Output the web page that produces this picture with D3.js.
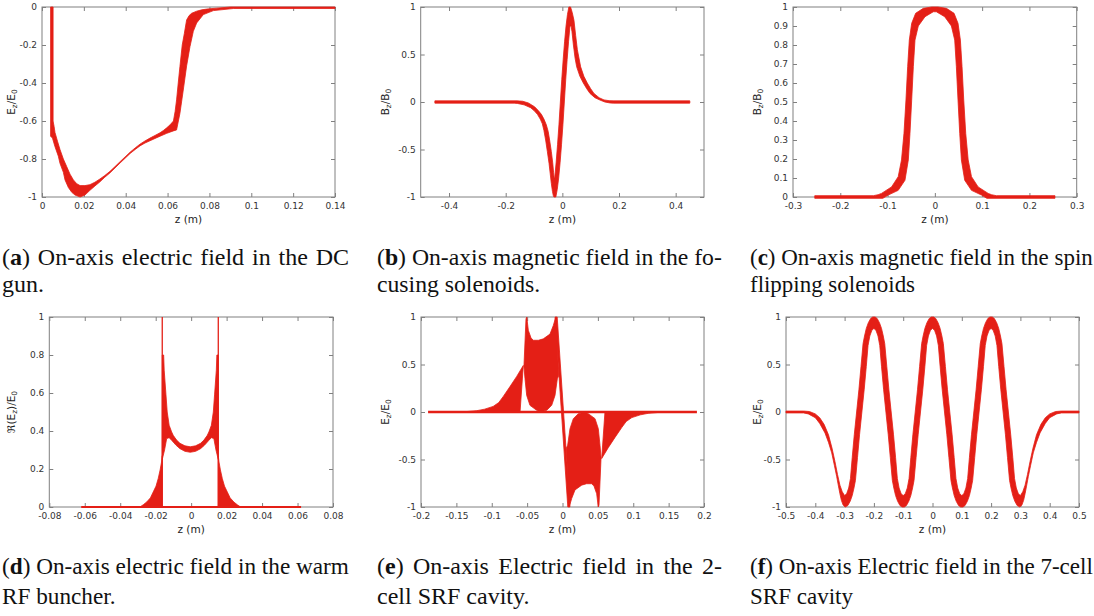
<!DOCTYPE html>
<html><head><meta charset="utf-8">
<script src="https://cdn.jsdelivr.net/npm/d3@7"></script>
<style>
body{margin:0;background:#fff}
svg{display:block}
.cap{font-family:"Liberation Serif","Times New Roman",Times,serif}
</style></head><body>
<svg id="fig" width="1094" height="616"></svg>
<script>
// ---------- (a) DC gun: Ez/E0 band, upper and lower edges ----------
const aTop = [[0.0041,0],[0.0053,0],[0.0053,-0.60],[0.0058,-0.63],[0.0062,-0.66],[0.0075,-0.71],[0.0086,-0.75],[0.0102,-0.80],[0.0118,-0.84],[0.0134,-0.88],[0.0150,-0.91],[0.0166,-0.93],[0.0182,-0.94],[0.0205,-0.94],[0.0229,-0.935],[0.0253,-0.922],[0.0277,-0.905],[0.0300,-0.887],[0.0325,-0.865],[0.0349,-0.84],[0.0373,-0.814],[0.0397,-0.789],[0.0421,-0.764],[0.0445,-0.742],[0.0468,-0.722],[0.0492,-0.705],[0.0516,-0.69],[0.0540,-0.676],[0.0564,-0.662],[0.0580,-0.650],[0.0596,-0.636],[0.0612,-0.620],[0.0628,-0.600],[0.0636,-0.55],[0.0643,-0.489],[0.0651,-0.40],[0.0659,-0.314],[0.0670,-0.20],[0.0680,-0.14],[0.0691,-0.068],[0.0703,-0.045],[0.0715,-0.033],[0.0739,-0.022],[0.0763,-0.015],[0.0787,-0.011],[0.0835,-0.006],[0.0900,0],[0.14,0]];
const aBottom = [[0.0041,0],[0.0041,-0.68],[0.0050,-0.69],[0.0062,-0.735],[0.0078,-0.785],[0.0086,-0.823],[0.0102,-0.87],[0.0110,-0.91],[0.0126,-0.95],[0.0142,-0.975],[0.0158,-0.99],[0.0182,-1.0],[0.0205,-0.99],[0.0229,-0.965],[0.0253,-0.942],[0.0277,-0.92],[0.0300,-0.896],[0.0325,-0.873],[0.0349,-0.847],[0.0373,-0.821],[0.0397,-0.796],[0.0421,-0.771],[0.0445,-0.75],[0.0468,-0.731],[0.0492,-0.716],[0.0516,-0.704],[0.0540,-0.692],[0.0564,-0.68],[0.0596,-0.665],[0.0628,-0.652],[0.0643,-0.647],[0.0659,-0.56],[0.0675,-0.437],[0.0691,-0.31],[0.0707,-0.209],[0.0723,-0.128],[0.0739,-0.084],[0.0771,-0.04],[0.0819,-0.019],[0.0914,-0.008],[0.14,-0.008]];

// ---------- (b) focusing solenoids: Bz/B0 ----------
const bTop = [[-0.45,0.012],[-0.16,0.012],[-0.14,0.008],[-0.12,-0.01],[-0.098,-0.05],[-0.085,-0.09],[-0.074,-0.13],[-0.065,-0.18],[-0.0566,-0.24],[-0.05,-0.31],[-0.045,-0.40],[-0.039,-0.52],[-0.034,-0.64],[-0.031,-0.74],[-0.029,-0.80],[-0.027,-0.80],[-0.022,-0.64],[-0.017,-0.45],[-0.012,-0.24],[-0.007,0],[-0.002,0.24],[0.003,0.45],[0.008,0.64],[0.013,0.8],[0.018,0.92],[0.023,1.0],[0.029,1.0],[0.035,0.94],[0.041,0.86],[0.047,0.70],[0.053,0.55],[0.0646,0.37],[0.076,0.27],[0.088,0.2],[0.1,0.14],[0.1116,0.09],[0.13,0.045],[0.147,0.022],[0.165,0.014],[0.182,0.012],[0.45,0.012]];
const bBottom = [[-0.45,-0.012],[-0.17,-0.012],[-0.159,-0.015],[-0.135,-0.03],[-0.112,-0.06],[-0.1,-0.09],[-0.088,-0.13],[-0.078,-0.18],[-0.0706,-0.23],[-0.065,-0.30],[-0.059,-0.40],[-0.053,-0.52],[-0.047,-0.645],[-0.043,-0.75],[-0.039,-0.856],[-0.035,-0.94],[-0.032,-0.985],[-0.0296,-1.0],[-0.023,-1.0],[-0.018,-0.92],[-0.013,-0.8],[-0.008,-0.64],[-0.003,-0.45],[0.002,-0.24],[0.007,0],[0.012,0.24],[0.017,0.45],[0.022,0.64],[0.027,0.8],[0.031,0.80],[0.034,0.74],[0.039,0.60],[0.045,0.46],[0.0506,0.37],[0.062,0.27],[0.074,0.2],[0.086,0.14],[0.0976,0.09],[0.115,0.045],[0.133,0.02],[0.15,0],[0.168,-0.01],[0.18,-0.012],[0.45,-0.012]];

// ---------- (c) spin-flipping solenoids: Bz/B0 ----------
const cTop = [[-0.254,0.007],[-0.13,0.007],[-0.12,0.012],[-0.1128,0.019],[-0.0916,0.053],[-0.0775,0.107],[-0.0705,0.195],[-0.0653,0.335],[-0.0611,0.51],[-0.0575,0.686],[-0.054,0.826],[-0.049,0.914],[-0.0406,0.967],[-0.0244,0.993],[-0.0067,1.0],[0.0067,1.0],[0.0244,0.993],[0.0406,0.967],[0.049,0.914],[0.054,0.826],[0.0575,0.686],[0.0611,0.51],[0.0653,0.335],[0.0705,0.195],[0.0775,0.107],[0.0916,0.053],[0.1128,0.019],[0.12,0.012],[0.13,0.007],[0.254,0.007]];
const cBottom = [[-0.254,-0.007],[-0.11,-0.007],[-0.0987,0.01],[-0.0775,0.035],[-0.0632,0.088],[-0.0561,0.195],[-0.0526,0.335],[-0.049,0.51],[-0.0455,0.686],[-0.042,0.826],[-0.035,0.90],[-0.0208,0.949],[-0.0032,0.975],[0.0032,0.975],[0.0208,0.949],[0.035,0.90],[0.042,0.826],[0.0455,0.686],[0.049,0.51],[0.0526,0.335],[0.0561,0.195],[0.0632,0.088],[0.0775,0.035],[0.0987,0.01],[0.11,-0.007],[0.254,-0.007]];

// ---------- (d) warm RF buncher: Re(Ez)/E0 ----------
const dAxisLine = [[-0.062,0],[0.062,0]];
const dLeftTail = [[-0.0289,0],[-0.027,0.012],[-0.0251,0.026],[-0.023,0.048],[-0.0214,0.079],[-0.0198,0.11],[-0.0186,0.149],[-0.0175,0.195],[-0.0167,0.237],[-0.0163,0.27],[-0.0163,0]];
const dRightTail = [[0.0279,0],[0.026,0.012],[0.0241,0.026],[0.022,0.048],[0.0204,0.079],[0.0188,0.11],[0.0176,0.149],[0.0165,0.195],[0.0157,0.237],[0.0153,0.27],[0.0153,0]];
const dArcTop = [[-0.0163,0.25],[-0.0163,0.80],[-0.0155,0.80],[-0.0152,0.72],[-0.0142,0.59],[-0.0135,0.50],[-0.0124,0.43],[-0.011,0.395],[-0.0101,0.377],[-0.0082,0.352],[-0.0063,0.335],[-0.0035,0.322],[-0.0005,0.317],[0.0025,0.322],[0.0053,0.335],[0.0072,0.352],[0.0091,0.377],[0.0100,0.395],[0.0114,0.43],[0.0125,0.50],[0.0132,0.59],[0.0142,0.72],[0.0145,0.80],[0.0153,0.80],[0.0153,0.25]];
const dArcBottom = [[-0.0163,0.25],[-0.0150,0.30],[-0.0138,0.36],[-0.0124,0.365],[-0.011,0.351],[-0.0085,0.325],[-0.0063,0.307],[-0.0035,0.293],[-0.0005,0.288],[0.0025,0.293],[0.0053,0.307],[0.0075,0.325],[0.0100,0.351],[0.0114,0.365],[0.0128,0.36],[0.0140,0.30],[0.0153,0.25]];
const dWalls = [[[-0.0163,0],[-0.0163,1]],[[0.0153,0],[0.0153,1]]];

// ---------- (e) 2-cell SRF cavity: Ez/E0 ----------
const eAxisLine = [[-0.19,0],[0.19,0]];
const eLeftTail = [[-0.15,0],[-0.135,0.005],[-0.121,0.014],[-0.11,0.03],[-0.098,0.059],[-0.09,0.1],[-0.0837,0.164],[-0.074,0.27],[-0.0647,0.375],[-0.0554,0.49],[-0.0600,0]];
const eCellLeft = [[-0.0545,0.48],[-0.0516,0.98],[-0.0505,1.0],[-0.0483,0.86],[-0.0445,0.78],[-0.0413,0.755],[-0.034,0.755],[-0.0271,0.77],[-0.0177,0.82],[-0.013,0.91],[-0.0095,1.0],[-0.0088,0.98],[-0.0055,0.38],[-0.0073,0.35],[-0.0106,0.175],[-0.0153,0.07],[-0.0223,0.018],[-0.0318,0],[-0.0365,0.018],[-0.046,0.07],[-0.0506,0.175],[-0.053,0.35]];
const eCellRight = [[0.0545,-0.48],[0.0516,-0.98],[0.0505,-1.0],[0.0483,-0.86],[0.0445,-0.78],[0.0413,-0.755],[0.034,-0.755],[0.0271,-0.77],[0.0177,-0.82],[0.013,-0.91],[0.0095,-1.0],[0.0088,-0.98],[0.0055,-0.38],[0.0073,-0.35],[0.0106,-0.175],[0.0153,-0.07],[0.0223,-0.018],[0.0318,0],[0.0365,-0.018],[0.046,-0.07],[0.0506,-0.175],[0.053,-0.35]];
const eRightTail = [[0.15,0],[0.135,-0.005],[0.121,-0.014],[0.11,-0.03],[0.098,-0.059],[0.09,-0.1],[0.0837,-0.164],[0.074,-0.27],[0.0647,-0.375],[0.0554,-0.49],[0.0600,0]];
const eCrossing = [[-0.0105,1.0],[-0.0075,1.0],[0.0105,-1.0],[0.0075,-1.0]];

// ---------- (f) 7-cell SRF cavity: Ez/E0 ----------
const fTop = [[-0.5,0.01],[-0.44,0.01],[-0.42,0.005],[-0.40,-0.02],[-0.385,-0.06],[-0.37,-0.13],[-0.355,-0.24],[-0.343,-0.38],[-0.333,-0.52],[-0.324,-0.66],[-0.316,-0.77],[-0.308,-0.84],[-0.3,-0.88],
[-0.293,-0.86],[-0.286,-0.80],[-0.280,-0.70],[-0.274,-0.48],[-0.267,-0.24],[-0.259,0],
[-0.251,0.24],[-0.244,0.48],[-0.237,0.72],[-0.232,0.80],[-0.226,0.88],[-0.219,0.94],[-0.211,0.985],[-0.204,1.0],[-0.196,1.0],[-0.189,0.985],[-0.181,0.94],[-0.174,0.88],[-0.168,0.80],[-0.163,0.72],[-0.156,0.48],[-0.149,0.24],[-0.141,0],
[-0.133,-0.24],[-0.126,-0.48],[-0.120,-0.70],[-0.114,-0.80],[-0.107,-0.86],[-0.1,-0.88],[-0.093,-0.86],[-0.086,-0.80],[-0.080,-0.70],[-0.074,-0.48],[-0.067,-0.24],[-0.059,0],
[-0.051,0.24],[-0.044,0.48],[-0.037,0.72],[-0.032,0.80],[-0.026,0.88],[-0.019,0.94],[-0.011,0.985],[-0.004,1.0],[0.004,1.0],[0.011,0.985],[0.019,0.94],[0.026,0.88],[0.032,0.80],[0.037,0.72],[0.044,0.48],[0.051,0.24],[0.059,0],
[0.067,-0.24],[0.074,-0.48],[0.080,-0.70],[0.086,-0.80],[0.093,-0.86],[0.1,-0.88],[0.107,-0.86],[0.114,-0.80],[0.120,-0.70],[0.126,-0.48],[0.133,-0.24],[0.141,0],
[0.149,0.24],[0.156,0.48],[0.163,0.72],[0.168,0.80],[0.174,0.88],[0.181,0.94],[0.189,0.985],[0.196,1.0],[0.204,1.0],[0.211,0.985],[0.219,0.94],[0.226,0.88],[0.232,0.80],[0.237,0.72],[0.244,0.48],[0.251,0.24],[0.259,0],
[0.267,-0.24],[0.274,-0.48],[0.280,-0.70],[0.286,-0.80],[0.293,-0.86],[0.3,-0.88],
[0.308,-0.84],[0.316,-0.77],[0.324,-0.66],[0.333,-0.52],[0.343,-0.38],[0.355,-0.24],[0.37,-0.13],[0.385,-0.06],[0.40,-0.02],[0.42,0.005],[0.44,0.01],[0.5,0.01]];
const fBottom = [[-0.5,-0.01],[-0.44,-0.01],[-0.424,-0.02],[-0.40,-0.06],[-0.385,-0.12],[-0.367,-0.22],[-0.355,-0.32],[-0.344,-0.43],[-0.335,-0.56],[-0.327,-0.68],[-0.321,-0.78],[-0.316,-0.86],[-0.311,-0.93],[-0.305,-0.98],[-0.298,-1.0],[-0.289,-0.985],[-0.281,-0.94],[-0.274,-0.88],[-0.268,-0.80],[-0.263,-0.72],[-0.256,-0.48],[-0.249,-0.24],[-0.241,0],
[-0.233,0.24],[-0.226,0.48],[-0.220,0.70],[-0.214,0.80],[-0.207,0.86],[-0.2,0.88],[-0.193,0.86],[-0.186,0.80],[-0.180,0.70],[-0.174,0.48],[-0.167,0.24],[-0.159,0],
[-0.151,-0.24],[-0.144,-0.48],[-0.137,-0.72],[-0.132,-0.80],[-0.126,-0.88],[-0.119,-0.94],[-0.111,-0.985],[-0.104,-1.0],[-0.096,-1.0],[-0.089,-0.985],[-0.081,-0.94],[-0.074,-0.88],[-0.068,-0.80],[-0.063,-0.72],[-0.056,-0.48],[-0.049,-0.24],[-0.041,0],
[-0.033,0.24],[-0.026,0.48],[-0.020,0.70],[-0.014,0.80],[-0.007,0.86],[0,0.88],[0.007,0.86],[0.014,0.80],[0.020,0.70],[0.026,0.48],[0.033,0.24],[0.041,0],
[0.049,-0.24],[0.056,-0.48],[0.063,-0.72],[0.068,-0.80],[0.074,-0.88],[0.081,-0.94],[0.089,-0.985],[0.096,-1.0],[0.104,-1.0],[0.111,-0.985],[0.119,-0.94],[0.126,-0.88],[0.132,-0.80],[0.137,-0.72],[0.144,-0.48],[0.151,-0.24],[0.159,0],
[0.167,0.24],[0.174,0.48],[0.180,0.70],[0.186,0.80],[0.193,0.86],[0.2,0.88],[0.207,0.86],[0.214,0.80],[0.220,0.70],[0.226,0.48],[0.233,0.24],[0.241,0],
[0.249,-0.24],[0.256,-0.48],[0.263,-0.72],[0.268,-0.80],[0.274,-0.88],[0.281,-0.94],[0.289,-0.985],[0.298,-1.0],[0.305,-0.98],[0.311,-0.93],[0.316,-0.86],[0.321,-0.78],[0.327,-0.68],[0.335,-0.56],[0.344,-0.43],[0.355,-0.32],[0.367,-0.22],[0.385,-0.12],[0.40,-0.06],[0.424,-0.02],[0.44,-0.01],[0.5,-0.01]];

// ---------- tick values ----------
const aXTicks = [0,0.02,0.04,0.06,0.08,0.1,0.12,0.14];
const aYTicks = [-1,-0.8,-0.6,-0.4,-0.2,0];
const bXTicks = [-0.4,-0.2,0,0.2,0.4];
const bYTicks = [-1,-0.5,0,0.5,1];
const cXTicks = [-0.3,-0.2,-0.1,0,0.1,0.2,0.3];
const cYTicks = [0,0.1,0.2,0.3,0.4,0.5,0.6,0.7,0.8,0.9,1];
const dXTicks = [-0.08,-0.06,-0.04,-0.02,0,0.02,0.04,0.06,0.08];
const dYTicks = [0,0.2,0.4,0.6,0.8,1];
const eXTicks = [-0.2,-0.15,-0.1,-0.05,0,0.05,0.1,0.15,0.2];
const eYTicks = [-1,-0.5,0,0.5,1];
const fXTicks = [-0.5,-0.4,-0.3,-0.2,-0.1,0,0.1,0.2,0.3,0.4,0.5];
const fYTicks = [-1,-0.5,0,0.5,1];

// ---------- captions ----------
const captionTags = ["a","b","c","d","e","f"];
const captionFirst = [" On-axis electric field in the DC"," On-axis magnetic field in the fo-"," On-axis magnetic field in the spin"," On-axis electric field in the warm"," On-axis Electric field in the 2-"," On-axis Electric field in the 7-cell"];
const captionSecond = ["gun.","cusing solenoids.","flipping solenoids","RF buncher.","cell SRF cavity.","SRF cavity"];

const RED = "#e41f16";
const FRAME = "#808080";
const svg = d3.select("#fig");

function fmt(v){ const s = String(+v.toFixed(6)); return s === "-0" ? "0" : s; }

function panel(cfg){
  const x = d3.scaleLinear().domain(cfg.xDomain).range([cfg.left, cfg.right]);
  const y = d3.scaleLinear().domain(cfg.yDomain).range([cfg.bottom, cfg.top]);
  const g = svg.append("g");
  const w = cfg.right - cfg.left, h = cfg.bottom - cfg.top;

  const styleAxis = sel => {
    sel.select(".domain").remove();
    sel.selectAll(".tick line").attr("stroke", FRAME);
    sel.selectAll(".tick text").attr("fill", "#333").attr("font-family", "DejaVu Sans").attr("font-size", 9);
  };
  g.append("g").attr("transform", `translate(0,${cfg.bottom})`)
    .call(d3.axisBottom(x).tickValues(cfg.xTicks).tickSizeInner(-4).tickSizeOuter(0).tickPadding(6).tickFormat(fmt))
    .call(styleAxis);
  g.append("g").attr("transform", `translate(0,${cfg.top})`)
    .call(d3.axisTop(x).tickValues(cfg.xTicks).tickSizeInner(-4).tickSizeOuter(0).tickFormat(""))
    .call(styleAxis);
  g.append("g").attr("transform", `translate(${cfg.left},0)`)
    .call(d3.axisLeft(y).tickValues(cfg.yTicks).tickSizeInner(-4).tickSizeOuter(0).tickPadding(5).tickFormat(fmt))
    .call(styleAxis);
  g.append("g").attr("transform", `translate(${cfg.right},0)`)
    .call(d3.axisRight(y).tickValues(cfg.yTicks).tickSizeInner(-4).tickSizeOuter(0).tickFormat(""))
    .call(styleAxis);
  g.append("rect").attr("x", cfg.left).attr("y", cfg.top).attr("width", w).attr("height", h)
    .attr("fill", "none").attr("stroke", FRAME).attr("stroke-width", 1);

  const line = d3.line().x(d => x(d[0])).y(d => y(d[1]));
  (cfg.shapes || []).forEach(pts => {
    g.append("path").attr("d", line(pts) + "Z").attr("fill", RED)
      .attr("stroke", RED).attr("stroke-width", 0.8).attr("stroke-linejoin", "round");
  });
  (cfg.lines || []).forEach(l => {
    g.append("path").attr("d", line(l.pts)).attr("fill", "none")
      .attr("stroke", RED).attr("stroke-width", l.width).attr("stroke-linecap", "butt");
  });

  // axis titles
  g.append("text").attr("x", (cfg.left + cfg.right) / 2).attr("y", cfg.bottom + 26)
    .attr("text-anchor", "middle").attr("font-family", "DejaVu Sans").attr("font-size", 10.5)
    .attr("fill", "#222").text("z (m)");
  const yl = g.append("text").attr("transform", `translate(${cfg.ylabelX},${(cfg.top + cfg.bottom) / 2}) rotate(-90)`)
    .attr("text-anchor", "middle").attr("font-family", "DejaVu Sans").attr("font-size", 10.5).attr("fill", "#222");
  cfg.ylabel.forEach(p => {
    const t = yl.append("tspan").text(p.t);
    if (p.sub) t.attr("font-size", 7.5).attr("baseline-shift", "-25%");
  });
}

const band = (top, bottom) => top.concat(bottom.slice().reverse());

panel({left:42, right:335, top:7, bottom:197, xDomain:[0,0.14], yDomain:[-1,0],
  xTicks:aXTicks, yTicks:aYTicks, ylabelX:15,
  ylabel:[{t:"E"},{t:"z",sub:true},{t:"/E"},{t:"0",sub:true}],
  shapes:[band(aTop, aBottom)]});

panel({left:420.7, right:704, top:7, bottom:197, xDomain:[-0.5,0.5], yDomain:[-1,1],
  xTicks:bXTicks, yTicks:bYTicks, ylabelX:389,
  ylabel:[{t:"B"},{t:"z",sub:true},{t:"/B"},{t:"0",sub:true}],
  shapes:[band(bTop, bBottom)]});

panel({left:793, right:1076.7, top:7, bottom:197, xDomain:[-0.3,0.3], yDomain:[0,1],
  xTicks:cXTicks, yTicks:cYTicks, ylabelX:761,
  ylabel:[{t:"B"},{t:"z",sub:true},{t:"/B"},{t:"0",sub:true}],
  shapes:[band(cTop, cBottom)]});

panel({left:49.3, right:333, top:317, bottom:507, xDomain:[-0.08,0.08], yDomain:[0,1],
  xTicks:dXTicks, yTicks:dYTicks, ylabelX:15,
  ylabel:[{t:"ℜ(E"},{t:"z",sub:true},{t:")/E"},{t:"0",sub:true}],
  shapes:[dLeftTail, dRightTail, band(dArcTop, dArcBottom)],
  lines:[{pts:dAxisLine, width:2.2}, {pts:dWalls[0], width:1.3}, {pts:dWalls[1], width:1.3}]});

panel({left:421, right:704, top:317, bottom:507, xDomain:[-0.2,0.2], yDomain:[-1,1],
  xTicks:eXTicks, yTicks:eYTicks, ylabelX:389,
  ylabel:[{t:"E"},{t:"z",sub:true},{t:"/E"},{t:"0",sub:true}],
  shapes:[eLeftTail, eCellLeft, eCrossing, eCellRight, eRightTail],
  lines:[{pts:eAxisLine, width:2.4}]});

panel({left:786, right:1079, top:317, bottom:507, xDomain:[-0.5,0.5], yDomain:[-1,1],
  xTicks:fXTicks, yTicks:fYTicks, ylabelX:761,
  ylabel:[{t:"E"},{t:"z",sub:true},{t:"/E"},{t:"0",sub:true}],
  shapes:[band(fTop, fBottom)]});

// captions under each panel: first line justified to the column width
const CAP_SIZE = 24;
const colX = [2, 377, 750], colW = [347, 345, 343];
const rowY = [[265, 292], [574, 604]];
captionTags.forEach((tag, i) => {
  const col = i % 3, row = Math.floor(i / 3);
  const cx = colX[col], cy = rowY[row][0];
  const t1 = svg.append("text").attr("class", "cap").attr("x", cx).attr("y", cy)
    .attr("font-size", CAP_SIZE).attr("fill", "#111");
  t1.append("tspan").text("(");
  t1.append("tspan").attr("font-weight", "bold").text(tag);
  t1.append("tspan").text(")" + captionFirst[i]);
  const nat = t1.node().getComputedTextLength();
  const gaps = captionFirst[i].split(" ").length - 1;
  const extra = colW[col] - nat;
  if (extra > 0) t1.attr("word-spacing", extra / gaps);
  else t1.attr("transform", `translate(${cx},${cy}) scale(${colW[col] / nat},1) translate(${-cx},${-cy})`);
  svg.append("text").attr("class", "cap").attr("x", cx).attr("y", rowY[row][1])
    .attr("font-size", CAP_SIZE).attr("fill", "#111")
    .attr("transform", extra > 0 ? null : `translate(${cx},${rowY[row][1]}) scale(${colW[col] / nat},1) translate(${-cx},${-rowY[row][1]})`)
    .text(captionSecond[i]);
});
</script>
</body></html>
